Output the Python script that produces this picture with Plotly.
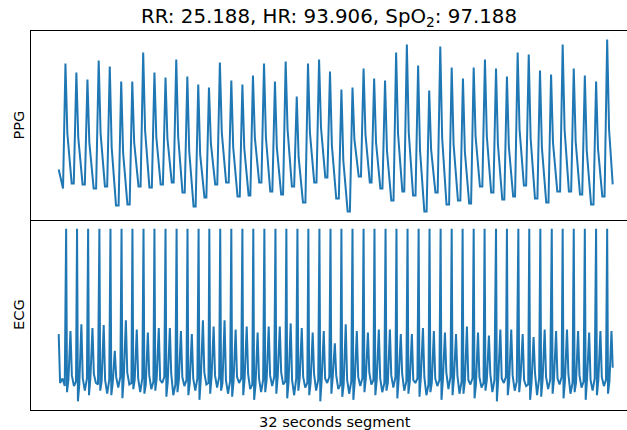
import plotly.graph_objects as go
from plotly.subplots import make_subplots

# ---- PPG: per-beat landmarks (time in s, amplitude in arbitrary units) ----
PPG_PEAK_T = [0.39, 1.02, 1.66, 2.31, 2.95, 3.61, 4.25, 4.88, 5.53, 6.17,
              6.79, 7.43, 8.06, 8.68, 9.31, 9.97, 10.61, 11.22, 11.86, 12.49,
              13.11, 13.75, 14.40, 15.04, 15.67, 16.33, 16.97, 17.61, 18.22, 18.85,
              19.49, 20.11, 20.76, 21.40, 22.04, 22.70, 23.35, 23.97, 24.62, 25.26,
              25.89, 26.51, 27.15, 27.80, 28.44, 29.11, 29.75, 30.39, 31.04, 31.68]
PPG_PEAK = [148, 139, 132, 151, 145, 130, 130, 159, 139, 134,
            152, 135, 127, 124, 149, 131, 127, 136, 148, 130,
            150, 115, 148, 152, 140, 122, 124, 143, 133, 131,
            159, 167, 146, 121, 165, 144, 133, 144, 152, 143,
            135, 159, 157, 141, 137, 167, 143, 136, 130, 172]
PPG_NOTCH = [78, 74, 69, 78, 64, 59, 69, 81, 74, 73,
             75, 60, 57, 68, 79, 64, 63, 74, 74, 64,
             82, 54, 79, 84, 66, 51, 72, 77, 69, 61,
             78, 79, 61, 62, 73, 67, 60, 75, 75, 67,
             65, 82, 73, 64, 69, 82, 70, 61, 63, 82]
# trough that follows each beat (none after the last one)
PPG_FOOT = [28, 27, 23, 25, 6, 7, 25, 24, 27, 29,
            19, 5, 14, 27, 29, 15, 16, 29, 20, 17,
            25, 9, 29, 34, 13, 0, 35, 29, 23, 11,
            20, 16, 0, 19, 7, 11, 8, 25, 19, 12,
            15, 26, 13, 9, 20, 20, 17, 7, 15]
PPG_LEAD_T, PPG_LEAD_V = [0.0, 0.25], [42, 23]
PPG_TAIL_T, PPG_TAIL_V = [32.0], [27]

# ---- ECG: per-beat landmarks (time in s, amplitude in mV-like units) ----
ECG_R_T = [0.43, 1.06, 1.70, 2.35, 2.99, 3.63, 4.26, 4.90, 5.53, 6.17,
           6.81, 7.44, 8.08, 8.70, 9.33, 9.97, 10.61, 11.24, 11.88, 12.52,
           13.15, 13.79, 14.42, 15.06, 15.70, 16.33, 16.97, 17.61, 18.24, 18.88,
           19.51, 20.15, 20.79, 21.42, 22.06, 22.70, 23.33, 23.97, 24.60, 25.26,
           25.89, 26.55, 27.18, 27.82, 28.48, 29.11, 29.75, 30.39, 31.04, 31.68]
ECG_R = [1.0, 1.0, 1.0, 1.0, 1.0, 1.0, 1.0, 1.0, 1.0, 1.0,
         1.0, 1.0, 1.0, 1.0, 1.0, 1.0, 1.0, 1.0, 1.0, 1.0,
         1.0, 1.0, 1.0, 1.0, 1.0, 1.0, 1.0, 1.0, 1.0, 1.0,
         1.0, 1.0, 1.0, 1.0, 1.0, 1.0, 1.0, 1.0, 1.0, 1.0,
         1.0, 1.0, 1.0, 1.0, 1.0, 1.0, 1.0, 1.0, 1.0, 1.0]
ECG_S = [-0.07, -0.13, -0.09, -0.06, -0.09, -0.11, -0.05, -0.08, -0.06, -0.10,
         -0.07, -0.09, -0.12, -0.08, -0.06, -0.10, -0.09, -0.12, -0.07, -0.08,
         -0.11, -0.06, -0.09, -0.13, -0.08, -0.10, -0.12, -0.07, -0.09, -0.06,
         -0.11, -0.08, -0.10, -0.07, -0.12, -0.09, -0.08, -0.11, -0.06, -0.13,
         -0.09, -0.07, -0.12, -0.10, -0.08, -0.11, -0.07, -0.12, -0.09, -0.08]
ECG_ST = [0.01, -0.02, 0.02, 0.00, -0.01, 0.03, 0.01, -0.02, 0.02, 0.00,
          0.01, -0.01, 0.02, 0.03, -0.01, 0.00, 0.02, -0.02, 0.01, 0.03,
          0.00, 0.02, -0.01, 0.01, 0.03, -0.02, 0.00, 0.02, 0.01, -0.01,
          0.02, 0.00, 0.03, -0.01, 0.01, 0.02, 0.00, -0.02, 0.01, 0.02,
          0.00, 0.03, -0.01, 0.01, 0.02, 0.00, -0.01, 0.02, 0.01, 0.00]
ECG_T = [0.33, 0.375, 0.35, 0.37, 0.20, 0.40, 0.34, 0.32, 0.35, 0.35,
         0.33, 0.31, 0.40, 0.36, 0.40, 0.34, 0.36, 0.32, 0.36, 0.36,
         0.38, 0.35, 0.32, 0.33, 0.25, 0.375, 0.33, 0.32, 0.34, 0.34,
         0.31, 0.31, 0.35, 0.33, 0.32, 0.31, 0.36, 0.32, 0.30, 0.34,
         0.34, 0.31, 0.29, 0.34, 0.33, 0.34, 0.33, 0.32, 0.33, 0.33]
# diastolic baseline between beats (none after the last one)
ECG_POST_T = [0.04, 0.02, 0.05, 0.01, 0.03, 0.06, 0.02, 0.04, 0.01, 0.05,
              0.03, 0.02, 0.06, 0.04, 0.01, 0.03, 0.05, 0.02, 0.04, 0.06,
              0.01, 0.03, 0.05, 0.02, 0.04, 0.01, 0.03, 0.06, 0.02, 0.04,
              0.05, 0.01, 0.03, 0.02, 0.06, 0.04, 0.01, 0.03, 0.05, 0.02,
              0.04, 0.01, 0.06, 0.03, 0.02, 0.05, 0.04, 0.01, 0.03]
ECG_DIP = [-0.03, -0.06, -0.01, -0.08, -0.04, -0.02, -0.07, -0.05, -0.01, -0.09,
           -0.03, -0.06, -0.02, -0.04, -0.08, -0.01, -0.05, -0.07, -0.03, -0.02,
           -0.09, -0.04, -0.06, -0.01, -0.05, -0.08, -0.03, -0.02, -0.07, -0.04,
           -0.06, -0.01, -0.09, -0.03, -0.05, -0.08, -0.02, -0.04, -0.07, -0.01,
           -0.06, -0.03, -0.09, -0.05, -0.02, -0.08, -0.04, -0.06, -0.03]
ECG_Q = [0.00, 0.02, -0.02, 0.01, 0.03, -0.01, 0.02, 0.00, 0.03, -0.02,
         0.01, 0.02, -0.01, 0.03, 0.00, 0.02, -0.02, 0.01, 0.03, 0.00,
         0.02, -0.01, 0.01, 0.03, -0.02, 0.00, 0.02, 0.01, -0.01, 0.03,
         0.00, 0.02, -0.02, 0.01, 0.03, 0.00, 0.02, -0.01, 0.01, 0.03,
         0.00, -0.02, 0.02, 0.01, 0.03, -0.01, 0.00, 0.02, 0.01]
ECG_LEAD_T, ECG_LEAD_V = [0.0, 0.08, 0.22, 0.35], [0.31, -0.01, 0.02, -0.03]
ECG_TAIL_T, ECG_TAIL_V = [32.0], [0.09]

TITLE = "RR: 25.188, HR: 93.906, SpO<sub>2</sub>: 97.188"
XLABEL = "32 seconds segment"
YLABELS = ["PPG", "ECG"]

# ---- assemble the two traces from the landmarks ----
ppg_t, ppg_v = list(PPG_LEAD_T), list(PPG_LEAD_V)
for k, tp in enumerate(PPG_PEAK_T):
    ppg_t += [tp, tp + 0.11]
    ppg_v += [PPG_PEAK[k], PPG_NOTCH[k]]
    if k < len(PPG_FOOT):
        ppg_t += [tp + 0.36, PPG_PEAK_T[k + 1] - 0.15]
        ppg_v += [PPG_FOOT[k], PPG_FOOT[k]]
ppg_t += PPG_TAIL_T
ppg_v += PPG_TAIL_V

ecg_t, ecg_v = list(ECG_LEAD_T), list(ECG_LEAD_V)
for k, tr in enumerate(ECG_R_T):
    ecg_t += [tr, tr + 0.05, tr + 0.13, tr + 0.25]
    ecg_v += [ECG_R[k], ECG_S[k], ECG_ST[k], ECG_T[k]]
    if k < len(ECG_Q):
        ecg_t += [tr + 0.33, tr + 0.45, tr + 0.57]
        ecg_v += [ECG_POST_T[k], ECG_DIP[k], ECG_Q[k]]
ecg_t += ECG_TAIL_T
ecg_v += ECG_TAIL_V

BLUE = "#1f77b4"
FONT = "DejaVu Sans"
W, H = 627, 430
ML, MT, MB = 31, 31, 20

fig = make_subplots(rows=2, cols=1, shared_xaxes=True, vertical_spacing=0)
fig.add_trace(go.Scatter(x=ppg_t, y=ppg_v, mode="lines",
                         line=dict(color=BLUE, width=2), showlegend=False,
                         hoverinfo="skip"), row=1, col=1)
fig.add_trace(go.Scatter(x=ecg_t, y=ecg_v, mode="lines",
                         line=dict(color=BLUE, width=2), showlegend=False,
                         hoverinfo="skip"), row=2, col=1)


def padded(vals, frac=0.05):
    lo, hi = min(vals), max(vals)
    span = hi - lo
    return [lo - frac * span, hi + frac * span]


# x axis: 5% padding on both sides; the right end of the axes runs past the
# 627-px canvas, so only ~97.8% of the padded span is visible
x_lo, x_hi = padded(ppg_t + ecg_t)
x_hi = x_lo + (x_hi - x_lo) * 0.978

axis_common = dict(showgrid=False, zeroline=False, showticklabels=False,
                   ticks="", showline=True, linecolor="black", linewidth=1)
fig.update_xaxes(range=[x_lo, x_hi], **axis_common)
fig.update_xaxes(mirror=True, row=1, col=1)   # top frame + shared divider
fig.update_xaxes(mirror=False, row=2, col=1)  # bottom frame only
fig.update_yaxes(mirror=False, **axis_common)
fig.update_yaxes(range=padded(ppg_v), row=1, col=1)
fig.update_yaxes(range=padded(ecg_v), row=2, col=1)

plot_h = H - MT - MB
split = (410 - 220) / plot_h
fig.update_layout(yaxis=dict(domain=[split, 1]), yaxis2=dict(domain=[0, split]))

# centre of the (partly cropped) axes box in paper units
x_mid = (335 - ML) / (W - ML)

fig.update_layout(
    width=W, height=H,
    margin=dict(l=ML, r=0, t=MT, b=MB, pad=0),
    paper_bgcolor="white", plot_bgcolor="white",
    font=dict(family=FONT, color="black"),
    title=dict(text=TITLE, x=329 / W, xref="container", xanchor="center",
               y=1 - 16 / H, yref="container", yanchor="middle",
               font=dict(size=19.8, family=FONT, color="black")),
    annotations=[
        dict(text=YLABELS[0], x=0, y=(1 + split) / 2, xref="paper", yref="paper",
             xanchor="center", yanchor="middle", xshift=-13, textangle=-90,
             showarrow=False, font=dict(size=14.6, family=FONT)),
        dict(text=YLABELS[1], x=0, y=split / 2, xref="paper", yref="paper",
             xanchor="center", yanchor="middle", xshift=-13, textangle=-90,
             showarrow=False, font=dict(size=14.6, family=FONT)),
        dict(text=XLABEL, x=x_mid, y=0, xref="paper", yref="paper",
             xanchor="center", yanchor="top", yshift=-1,
             showarrow=False, font=dict(size=14.6, family=FONT)),
    ],
)

fig.write_html("out.html")
